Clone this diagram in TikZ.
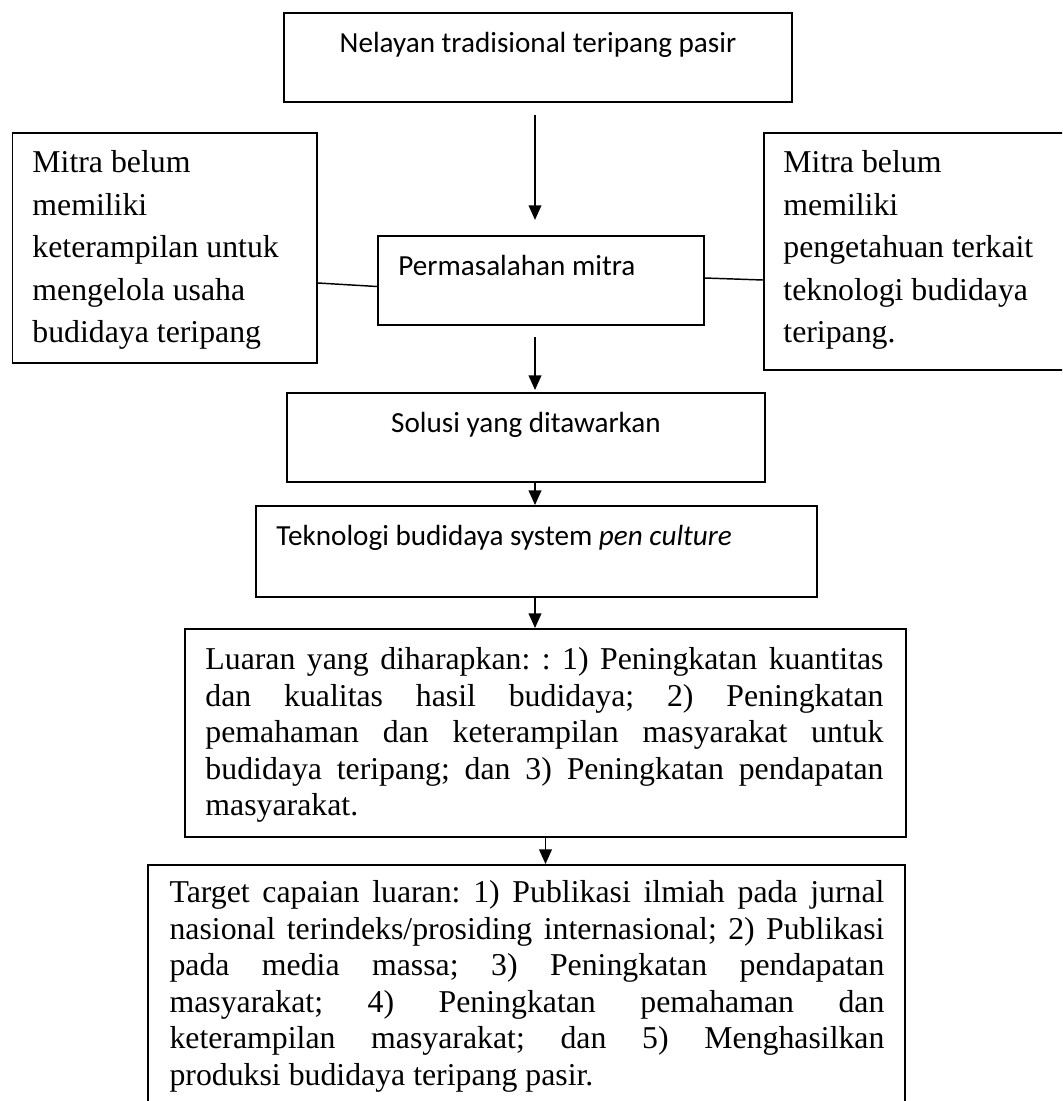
\documentclass[tikz,border=0pt]{standalone}
\usepackage{fontspec}
\setmainfont{Liberation Serif}
\newfontfamily\calibri{Carlito}
\usetikzlibrary{positioning, arrows.meta, calc}
\tolerance=10000
\hbadness=10000
\frenchspacing

\begin{document}
\begin{tikzpicture}[
  x=0.3774pt, y=-0.3774pt,
  panel/.style={draw, line width=0.75pt, inner sep=0pt, anchor=north west},
  sanstxt/.style={font=\fontsize{11}{13.4}\calibri, inner sep=0pt},
  sidetxt/.style={font=\fontsize{12}{16.04}\selectfont, inner sep=0pt, align=left},
  bodytxt/.style={font=\fontsize{12}{13.8}\selectfont, inner sep=0pt, align=justify},
  arrow/.style={-{Triangle[length=5.5pt, width=4.8pt]}, line width=0.55pt},
  link/.style={line width=0.55pt},
]
\useasboundingbox (0,0) rectangle (1062,1101);
\clip (0,0) rectangle (1062,1101);

\node[panel, minimum width=191.7pt, minimum height=33.6pt] (fisher) at (283,12) {};
\node[sanstxt, below=5.7pt of fisher.north] (fisherText) {\strut Nelayan tradisional teripang pasir};

\node[panel, minimum width=114.9pt, minimum height=86.8pt] (skill) at (11.5,132) {};
\node[sidetxt, below right=3.9pt and 7.7pt of skill.north west] (skillText)
  {\strut Mitra belum\\memiliki\\keterampilan untuk\\mengelola usaha\\budidaya teripang};

\node[panel, minimum width=120.8pt, minimum height=89.4pt] (know) at (763,132) {};
\node[sidetxt, below right=3.9pt and 7.5pt of know.north west] (knowText)
  {\strut Mitra belum\\memiliki\\pengetahuan terkait\\teknologi budidaya\\teripang.};

\node[panel, minimum width=123pt, minimum height=33.6pt] (problem) at (377,235) {};
\node[sanstxt, below right=5.7pt and 7.9pt of problem.north west] (problemText) {\strut Permasalahan mitra};

\node[panel, minimum width=180.4pt, minimum height=33.6pt] (solution) at (286,392) {};
\node[sanstxt, below=5.7pt of solution.north] (solutionText) {\strut Solusi yang ditawarkan};

\node[panel, minimum width=211.7pt, minimum height=34.3pt] (pen) at (255,505) {};
\node[sanstxt, below right=5.7pt and 7.9pt of pen.north west] (penText)
  {\strut Teknologi budidaya system \textit{pen culture}};

\node[panel, minimum width=272.1pt, minimum height=78.5pt] (outcome) at (184,628) {};
\node[bodytxt, text width=255.9pt, below right=5.8pt and 7.9pt of outcome.north west] (outcomeText)
  {\strut Luaran yang diharapkan: : 1) Peningkatan kuantitas\linebreak
   dan kualitas hasil budidaya; 2) Peningkatan\linebreak
   pemahaman dan keterampilan masyarakat untuk\linebreak
   budidaya teripang; dan 3) Peningkatan pendapatan\linebreak
   masyarakat.};

\node[panel, minimum width=285.7pt, minimum height=100pt] (target) at (147,864) {};
\node[bodytxt, text width=269.8pt, below right=4.7pt and 8.3pt of target.north west] (targetText)
  {\strut Target capaian luaran: 1) Publikasi ilmiah pada jurnal\linebreak
   nasional terindeks/prosiding internasional; 2) Publikasi\linebreak
   pada media massa; 3) Peningkatan pendapatan\linebreak
   masyarakat; 4) Peningkatan pemahaman dan\linebreak
   keterampilan masyarakat; dan 5) Menghasilkan\linebreak
   produksi budidaya teripang pasir.};

\coordinate (spine) at (535,0);
\draw[arrow, shorten <=4.5pt, shorten >=5.7pt] (fisher.south -| spine) -- (problem.north -| spine);
\draw[arrow, shorten <=4.2pt, shorten >=0.75pt] (problem.south -| spine) -- (solution.north -| spine);
\draw[arrow] (solution.south -| spine) -- (pen.north -| spine);
\draw[arrow] (pen.south -| spine) -- (outcome.north -| spine);
\draw[arrow] (outcome.south) -- (outcome.south |- target.north);
\draw[link] ($(skill.north east)+(0,151)$) -- ($(problem.west)+(0,6)$);
\draw[link] ($(problem.east)+(0,-2.5)$) -- ($(know.north west)+(0,148)$);
\end{tikzpicture}
\end{document}
